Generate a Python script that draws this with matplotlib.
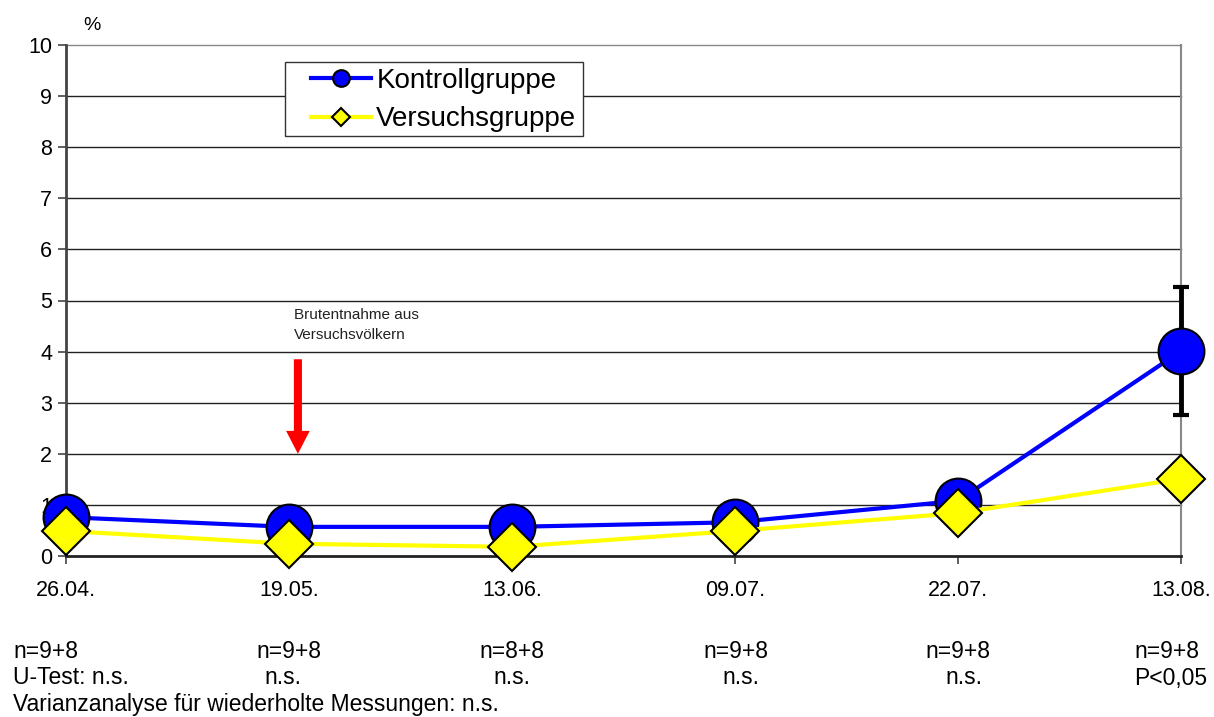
import matplotlib
matplotlib.use("Agg")
import matplotlib.pyplot as plt
from matplotlib.lines import Line2D
from matplotlib.patches import Rectangle

plt.rcParams['font.family'] = ['Liberation Sans', 'DejaVu Sans']

dates = ["26.04.", "19.05.", "13.06.", "09.07.", "22.07.", "13.08."]
kontroll = [0.76, 0.57, 0.57, 0.66, 1.08, 4.01]
kontroll_err = [0, 0, 0, 0, 0, 1.25]
versuch = [0.49, 0.24, 0.18, 0.49, 0.84, 1.51]
n_labels = ["n=9+8", "n=9+8", "n=8+8", "n=9+8", "n=9+8", "n=9+8"]
test_labels = ["U-Test: n.s.", "n.s.", "n.s.", "n.s.", "n.s.", "P<0,05"]
footer = "Varianzanalyse für wiederholte Messungen: n.s."
yticks = list(range(0, 11))

W, H = 1214, 717
fig = plt.figure(figsize=(W / 100, H / 100), dpi=100)
ax = fig.add_axes([66 / W, 1 - 556 / H, (1181 - 66) / W, (556 - 45) / H])

x = list(range(len(dates)))

for yv in yticks[1:]:
    ax.axhline(yv, color='#222222' if yv < 10 else '#888888', lw=1.0, zorder=1)
ax.axvline(len(dates) - 1, color='#888888', lw=1.5, zorder=1)

# Kontrollgruppe
ax.errorbar([x[-1]], [kontroll[-1]], yerr=[kontroll_err[-1]], fmt='none',
            ecolor='black', elinewidth=3.5, capsize=6, capthick=3, zorder=3)
ax.plot(x, kontroll, color='#0000ff', lw=3, zorder=4)
ax.plot(x, kontroll, linestyle='none', marker='o', markersize=33,
        markerfacecolor='#0000ff', markeredgecolor='black', markeredgewidth=1.5, zorder=5)
# Versuchsgruppe
ax.plot(x, versuch, color='#ffff00', lw=3, zorder=6)
ax.plot(x, versuch, linestyle='none', marker='D', markersize=24,
        markerfacecolor='#ffff00', markeredgecolor='black', markeredgewidth=1.5, zorder=7)

ax.set_xlim(0, len(dates) - 1)
ax.set_ylim(0, 10)
ax.set_yticks(yticks)
ax.set_yticklabels([str(v) for v in yticks], fontsize=15.5)
ax.set_xticks(x)
ax.set_xticklabels(dates, fontsize=15.5)
ax.tick_params(axis='both', direction='out', length=6, width=1.2, color='#444444')
ax.tick_params(axis='x', pad=11)
ax.tick_params(axis='y', pad=4)
for s in ['top', 'right']:
    ax.spines[s].set_visible(False)
ax.spines['left'].set_linewidth(2)
ax.spines['left'].set_color('#444444')
ax.spines['bottom'].set_linewidth(2)
ax.spines['bottom'].set_color('#222222')
for sp in ax.spines.values():
    sp.set_zorder(2)
for art in ax.lines:
    art.set_clip_on(False)
for coll in ax.collections:
    coll.set_clip_on(False)

# Annotation arrow
ax.annotate('', xy=(1.04, 2.0), xytext=(1.04, 3.85),
            arrowprops=dict(facecolor='#ff0000', edgecolor='none', width=5.8,
                            headwidth=17, headlength=16.5, shrink=0), zorder=8)
ax.text(1.022, 4.86, "Brutentnahme aus\nVersuchsvölkern", fontsize=11,
        ha='left', va='top', linespacing=1.55, color='#222222', zorder=8)

# Legend box
box = Rectangle((285 / W, 1 - 136 / H), 298 / W, 74 / H, transform=fig.transFigure,
                facecolor='white', edgecolor='#333333', linewidth=1.0, zorder=9,
                clip_on=False)
ax.add_patch(box)

# Legend
handles = [
    Line2D([], [], color='#0000ff', lw=3, marker='o', markersize=12,
           markerfacecolor='#0000ff', markeredgecolor='black', markeredgewidth=1.5),
    Line2D([], [], color='#ffff00', lw=3, marker='D', markersize=9,
           markerfacecolor='#ffff00', markeredgecolor='black', markeredgewidth=1.5),
]
leg = ax.legend(handles, ["Kontrollgruppe", "Versuchsgruppe"], fontsize=20,
                loc='upper left', bbox_to_anchor=(311 / W, 1 - 68 / H),
                bbox_transform=fig.transFigure, frameon=False,
                borderpad=0, borderaxespad=0,
                handlelength=2.15, handletextpad=0.2, labelspacing=0.45)
leg.set_zorder(10)

# Percent label
fig.text(83 / W, 1 - 25 / H, "%", fontsize=14, ha='left', va='center')

# Bottom annotations (pixel centres)
n_x = [13, 289, 512, 736, 958, 1134]
n_ha = ['left', 'center', 'center', 'center', 'center', 'left']
t_x = [13, 283, 512, 741, 964, 1134]
for i in range(len(dates)):
    fig.text(n_x[i] / W, 1 - 651 / H, n_labels[i], fontsize=16.5, ha=n_ha[i], va='center')
    fig.text(t_x[i] / W, 1 - 678 / H, test_labels[i], fontsize=16.5, ha=n_ha[i], va='center')
fig.text(13 / W, 1 - 705 / H, footer, fontsize=16.5, ha='left', va='center')

fig.savefig("out.png", dpi=100)
